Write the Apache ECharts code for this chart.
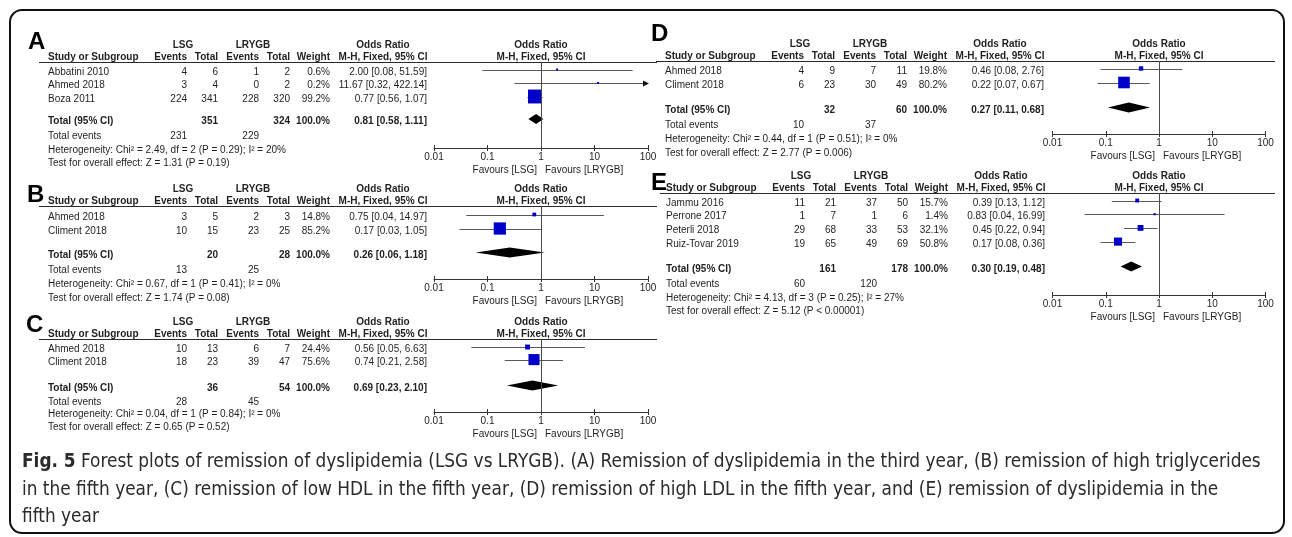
<!DOCTYPE html>
<html>
<head>
<meta charset="utf-8">
<script src="https://cdn.jsdelivr.net/npm/echarts/dist/echarts.min.js"></script>
<style>
  html, body { margin: 0; padding: 0; background: #fff; }
  #chart { width: 1292px; height: 537px; }
</style>
</head>
<body>
<div id="chart"></div>
<script>
// ---------- Data ----------
const oddsTicks = ['0.01', '0.1', '1', '10', '100'];

// A: remission of dyslipidemia, third year
const aStudies = ['Abbatini 2010', 'Ahmed 2018', 'Boza 2011'];
const aLsgEvents = [4, 3, 224];
const aLsgTotal = [6, 4, 341];
const aLrygbEvents = [1, 0, 228];
const aLrygbTotal = [2, 2, 320];
const aWeight = [0.6, 0.2, 99.2];
const aOr = [2.00, 11.67, 0.77];
const aLow = [0.08, 0.32, 0.56];
const aHigh = [51.59, 422.14, 1.07];
const aPooled = [0.81, 0.58, 1.11];          // estimate, lower, upper
const aTotals = [351, 324, 231, 229];        // LSG total, LRYGB total, LSG events, LRYGB events
const aHet = 'Heterogeneity: Chi² = 2.49, df = 2 (P = 0.29); I² = 20%';
const aTest = 'Test for overall effect: Z = 1.31 (P = 0.19)';

// B: remission of high triglycerides, fifth year
const bStudies = ['Ahmed 2018', 'Climent 2018'];
const bLsgEvents = [3, 10];
const bLsgTotal = [5, 15];
const bLrygbEvents = [2, 23];
const bLrygbTotal = [3, 25];
const bWeight = [14.8, 85.2];
const bOr = [0.75, 0.17];
const bLow = [0.04, 0.03];
const bHigh = [14.97, 1.05];
const bPooled = [0.26, 0.06, 1.18];
const bTotals = [20, 28, 13, 25];
const bHet = 'Heterogeneity: Chi² = 0.67, df = 1 (P = 0.41); I² = 0%';
const bTest = 'Test for overall effect: Z = 1.74 (P = 0.08)';

// C: remission of low HDL, fifth year
const cStudies = ['Ahmed 2018', 'Climent 2018'];
const cLsgEvents = [10, 18];
const cLsgTotal = [13, 23];
const cLrygbEvents = [6, 39];
const cLrygbTotal = [7, 47];
const cWeight = [24.4, 75.6];
const cOr = [0.56, 0.74];
const cLow = [0.05, 0.21];
const cHigh = [6.63, 2.58];
const cPooled = [0.69, 0.23, 2.10];
const cTotals = [36, 54, 28, 45];
const cHet = 'Heterogeneity: Chi² = 0.04, df = 1 (P = 0.84); I² = 0%';
const cTest = 'Test for overall effect: Z = 0.65 (P = 0.52)';

// D: remission of high LDL, fifth year
const dStudies = ['Ahmed 2018', 'Climent 2018'];
const dLsgEvents = [4, 6];
const dLsgTotal = [9, 23];
const dLrygbEvents = [7, 30];
const dLrygbTotal = [11, 49];
const dWeight = [19.8, 80.2];
const dOr = [0.46, 0.22];
const dLow = [0.08, 0.07];
const dHigh = [2.76, 0.67];
const dPooled = [0.27, 0.11, 0.68];
const dTotals = [32, 60, 10, 37];
const dHet = 'Heterogeneity: Chi² = 0.44, df = 1 (P = 0.51); I² = 0%';
const dTest = 'Test for overall effect: Z = 2.77 (P = 0.006)';

// E: remission of dyslipidemia, fifth year
const eStudies = ['Jammu 2016', 'Perrone 2017', 'Peterli 2018', 'Ruiz-Tovar 2019'];
const eLsgEvents = [11, 1, 29, 19];
const eLsgTotal = [21, 7, 68, 65];
const eLrygbEvents = [37, 1, 33, 49];
const eLrygbTotal = [50, 6, 53, 69];
const eWeight = [15.7, 1.4, 32.1, 50.8];
const eOr = [0.39, 0.83, 0.45, 0.17];
const eLow = [0.13, 0.04, 0.22, 0.08];
const eHigh = [1.12, 16.99, 0.94, 0.36];
const ePooled = [0.30, 0.19, 0.48];
const eTotals = [161, 178, 60, 120];
const eHet = 'Heterogeneity: Chi² = 4.13, df = 3 (P = 0.25); I² = 27%';
const eTest = 'Test for overall effect: Z = 5.12 (P < 0.00001)';

const captionLines = [
  'Forest plots of remission of dyslipidemia (LSG vs LRYGB). (A) Remission of dyslipidemia in the third year, (B) remission of high triglycerides',
  'in the fifth year, (C) remission of low HDL in the fifth year, (D) remission of high LDL in the fifth year, and (E) remission of dyslipidemia in the',
  'fifth year'
];

// ---------- Panels built from the arrays ----------
function makePanel(letter, studies, lsgE, lsgT, lrE, lrT, weight, or, low, high, pooled, totals, het, test) {
  return { letter, studies, lsgE, lsgT, lrE, lrT, weight, or, low, high, pooled, totals, het, test };
}
const panels = [
  makePanel('A', aStudies, aLsgEvents, aLsgTotal, aLrygbEvents, aLrygbTotal, aWeight, aOr, aLow, aHigh, aPooled, aTotals, aHet, aTest),
  makePanel('B', bStudies, bLsgEvents, bLsgTotal, bLrygbEvents, bLrygbTotal, bWeight, bOr, bLow, bHigh, bPooled, bTotals, bHet, bTest),
  makePanel('C', cStudies, cLsgEvents, cLsgTotal, cLrygbEvents, cLrygbTotal, cWeight, cOr, cLow, cHigh, cPooled, cTotals, cHet, cTest),
  makePanel('D', dStudies, dLsgEvents, dLsgTotal, dLrygbEvents, dLrygbTotal, dWeight, dOr, dLow, dHigh, dPooled, dTotals, dHet, dTest),
  makePanel('E', eStudies, eLsgEvents, eLsgTotal, eLrygbEvents, eLrygbTotal, eWeight, eOr, eLow, eHigh, ePooled, eTotals, eHet, eTest)
];

// ---------- Layout ----------
const panelLayout = [
  { letterX: 28,  letterY: 42,  x0: 48,  lineFrom: 39,  lineTo: 657,  lineY: 62,  row0: 72,    gap: 13.5, totalGap: 22.5, axisY: 148, plotLeft: 434,    plotWidth: 214 },
  { letterX: 27,  letterY: 195, x0: 48,  lineFrom: 39,  lineTo: 657,  lineY: 206, row0: 217,   gap: 14,   totalGap: 24,   axisY: 279, plotLeft: 434,    plotWidth: 214 },
  { letterX: 26,  letterY: 325, x0: 48,  lineFrom: 39,  lineTo: 657,  lineY: 339, row0: 349.5, gap: 12.6, totalGap: 26,   axisY: 412, plotLeft: 434,    plotWidth: 214 },
  { letterX: 651, letterY: 34,  x0: 665, lineFrom: 656, lineTo: 1275, lineY: 61,  row0: 71,    gap: 14,   totalGap: 25,   axisY: 134, plotLeft: 1052.5, plotWidth: 213 },
  { letterX: 651, letterY: 183, x0: 666, lineFrom: 660, lineTo: 1275, lineY: 193, row0: 203,   gap: 13.7, totalGap: 25,   axisY: 295, plotLeft: 1052.5, plotWidth: 213 }
];
// right edges of the table columns, measured from the study-name column
const COL = { evL: 139, totL: 170, evR: 211, totR: 242, weight: 282, ci: 379, lsg: 135, lrygb: 205, or: 335 };
const PLOT_SHIFT = 2.5;   // plot rows sit slightly above their table text

const FONT = '"Liberation Sans", Arial, sans-serif';
const TEXT = '#1f1f1f';
const AXIS = '#333';
const CI_COLOR = '#5a5a5a';
const BLUE = '#0000c8';

function renderCI(params, api) {
  const lo = api.value(0), hi = api.value(1), row = api.value(2);
  const a = api.coord([Math.max(lo, 0.01), row]);
  const b = api.coord([Math.min(hi, 100), row]);
  const y = Math.round(a[1]) + 0.5;
  const children = [{
    type: 'line',
    shape: { x1: a[0], y1: y, x2: b[0], y2: y },
    style: { stroke: CI_COLOR, lineWidth: 1 }
  }];
  if (hi > 100) {
    children.push({
      type: 'polygon',
      shape: { points: [[b[0] + 1, y], [b[0] - 5, y - 3], [b[0] - 5, y + 3]] },
      style: { fill: '#111' }
    });
  }
  return { type: 'group', children };
}

function renderDiamond(params, api) {
  const lo = api.coord([api.value(0), api.value(3)]);
  const mid = api.coord([api.value(1), api.value(3)]);
  const hi = api.coord([api.value(2), api.value(3)]);
  const h = 5;
  return {
    type: 'polygon',
    shape: { points: [[lo[0], lo[1]], [mid[0], mid[1] - h], [hi[0], hi[1]], [mid[0], mid[1] + h]] },
    style: { fill: '#000' }
  };
}

const chart = echarts.init(document.getElementById('chart'), null, { renderer: 'canvas' });

const grids = [], xAxes = [], yAxes = [], series = [];
panels.forEach((p, k) => {
  const L = panelLayout[k];
  grids.push({ left: L.plotLeft, top: L.lineY, width: L.plotWidth, height: L.axisY - L.lineY, containLabel: false, outerBoundsMode: 'none' });
  xAxes.push({
    type: 'log', logBase: 10, min: 0.01, max: 100, gridIndex: k, position: 'bottom',
    axisLine: { show: true, onZero: false, lineStyle: { color: AXIS, width: 1 } },
    axisTick: { show: true, length: 3, lineStyle: { color: AXIS, width: 1 } },
    axisLabel: { show: true, margin: 4, fontSize: 10, fontFamily: FONT, color: TEXT,
      formatter: v => oddsTicks[Math.round(Math.log10(v)) + 2] },
    splitLine: { show: false }, minorTick: { show: false }, minorSplitLine: { show: false }
  });
  xAxes.push({
    type: 'log', logBase: 10, min: 0.01, max: 100, gridIndex: k, position: 'bottom',
    axisLine: { show: false, onZero: false },
    axisTick: { show: true, inside: true, length: 3, lineStyle: { color: AXIS, width: 1 } },
    axisLabel: { show: false }, splitLine: { show: false }
  });
  const yMin = -(L.row0 - PLOT_SHIFT - L.lineY) / L.gap;
  yAxes.push({ type: 'value', gridIndex: k, inverse: true, min: yMin, max: yMin + (L.axisY - L.lineY) / L.gap, show: false });

  const n = p.studies.length;
  const totalRow = n - 1 + L.totalGap / L.gap;
  series.push({
    type: 'custom', xAxisIndex: 2 * k, yAxisIndex: k, silent: true, clip: false, z: 2,
    renderItem: renderCI, encode: { x: [0, 1], y: 2 },
    data: p.low.map((lo, i) => [lo, p.high[i], i])
  });
  series.push({
    type: 'scatter', xAxisIndex: 2 * k, yAxisIndex: k, silent: true, z: 3,
    symbol: 'rect', symbolSize: v => 2 + 0.12 * v[2],
    itemStyle: { color: BLUE, opacity: 1 },
    data: p.or.map((o, i) => [o, i, p.weight[i]]),
    markLine: {
      silent: true, symbol: 'none', label: { show: false },
      lineStyle: { color: '#4a4a4a', width: 1, type: 'solid' },
      emphasis: { disabled: true },
      data: [{ xAxis: 1 }]
    }
  });
  series.push({
    type: 'custom', xAxisIndex: 2 * k, yAxisIndex: k, silent: true, clip: false, z: 3,
    renderItem: renderDiamond, encode: { x: [0, 1, 2], y: 3 },
    data: [[p.pooled[1], p.pooled[0], p.pooled[2], totalRow]]
  });
});

chart.setOption({
  animation: false,
  backgroundColor: '#fff',
  grid: grids, xAxis: xAxes, yAxis: yAxes, series: series
});

// ---------- Tables, headings and caption ----------
function txt(x, y, text, align, bold, size, color) {
  return {
    type: 'text', x: x, y: y, silent: true,
    style: {
      text: text, align: align || 'left', verticalAlign: 'middle',
      font: (bold ? 'bold ' : '') + (size || 10) + 'px ' + FONT,
      fill: color || TEXT
    }
  };
}
function hline(x1, x2, y) {
  return { type: 'line', silent: true, shape: { x1: x1, y1: y + 0.5, x2: x2, y2: y + 0.5 }, style: { stroke: '#2a2a2a', lineWidth: 1 } };
}
const fmt2 = v => v.toFixed(2);
const ciText = (o, lo, hi) => fmt2(o) + ' [' + fmt2(lo) + ', ' + fmt2(hi) + ']';

const graphics = [];
graphics.push({
  type: 'rect', silent: true,
  shape: { x: 10, y: 10, width: 1274, height: 523, r: 12 },
  style: { fill: 'none', stroke: '#111', lineWidth: 2 }
});

panels.forEach((p, k) => {
  const L = panelLayout[k];
  const x0 = L.x0;
  const x1 = chart.convertToPixel({ xAxisIndex: 2 * k }, 1);
  const h1 = L.lineY - 16.5, h2 = L.lineY - 4.5;
  graphics.push(txt(L.letterX, L.letterY, p.letter, 'left', true, 24, '#000'));
  graphics.push(hline(L.lineFrom, L.lineTo, L.lineY));
  // column headings
  graphics.push(txt(x0 + COL.lsg, h1, 'LSG', 'center', true));
  graphics.push(txt(x0 + COL.lrygb, h1, 'LRYGB', 'center', true));
  graphics.push(txt(x0 + COL.or, h1, 'Odds Ratio', 'center', true));
  graphics.push(txt(x0, h2, 'Study or Subgroup', 'left', true));
  graphics.push(txt(x0 + COL.evL, h2, 'Events', 'right', true));
  graphics.push(txt(x0 + COL.totL, h2, 'Total', 'right', true));
  graphics.push(txt(x0 + COL.evR, h2, 'Events', 'right', true));
  graphics.push(txt(x0 + COL.totR, h2, 'Total', 'right', true));
  graphics.push(txt(x0 + COL.weight, h2, 'Weight', 'right', true));
  graphics.push(txt(x0 + COL.or, h2, 'M-H, Fixed, 95% CI', 'center', true));
  graphics.push(txt(x1, h1, 'Odds Ratio', 'center', true));
  graphics.push(txt(x1, h2, 'M-H, Fixed, 95% CI', 'center', true));
  // study rows
  p.studies.forEach((s, i) => {
    const y = L.row0 + L.gap * i;
    graphics.push(txt(x0, y, s, 'left'));
    graphics.push(txt(x0 + COL.evL, y, String(p.lsgE[i]), 'right'));
    graphics.push(txt(x0 + COL.totL, y, String(p.lsgT[i]), 'right'));
    graphics.push(txt(x0 + COL.evR, y, String(p.lrE[i]), 'right'));
    graphics.push(txt(x0 + COL.totR, y, String(p.lrT[i]), 'right'));
    graphics.push(txt(x0 + COL.weight, y, p.weight[i].toFixed(1) + '%', 'right'));
    graphics.push(txt(x0 + COL.ci, y, ciText(p.or[i], p.low[i], p.high[i]), 'right'));
  });
  // pooled rows
  const n = p.studies.length;
  const yTot = L.row0 + L.gap * (n - 1) + L.totalGap;
  const yEv = yTot + 1.1 * L.gap, yHet = yEv + L.gap, yTest = yHet + L.gap;
  graphics.push(txt(x0, yTot, 'Total (95% CI)', 'left', true));
  graphics.push(txt(x0 + COL.totL, yTot, String(p.totals[0]), 'right', true));
  graphics.push(txt(x0 + COL.totR, yTot, String(p.totals[1]), 'right', true));
  graphics.push(txt(x0 + COL.weight, yTot, '100.0%', 'right', true));
  graphics.push(txt(x0 + COL.ci, yTot, ciText(p.pooled[0], p.pooled[1], p.pooled[2]), 'right', true));
  graphics.push(txt(x0, yEv, 'Total events', 'left'));
  graphics.push(txt(x0 + COL.evL, yEv, String(p.totals[2]), 'right'));
  graphics.push(txt(x0 + COL.evR, yEv, String(p.totals[3]), 'right'));
  graphics.push(txt(x0, yHet, p.het, 'left'));
  graphics.push(txt(x0, yTest, p.test, 'left'));
  // favours labels under the axis
  graphics.push(txt(x1 - 4, L.axisY + 22, 'Favours [LSG]', 'right'));
  graphics.push(txt(x1 + 4, L.axisY + 22, 'Favours [LRYGB]', 'left'));
});

// caption, sized so the first line spans the frame's text width
const CAP_FONT = '"Liberation Sans Narrow", "DejaVu Sans Condensed", "Liberation Sans", sans-serif';
const ctx = document.createElement('canvas').getContext('2d');
ctx.font = 'bold 100px ' + CAP_FONT;
const wBold = ctx.measureText('Fig. 5 ').width;
ctx.font = '100px ' + CAP_FONT;
const wRest = ctx.measureText(captionLines[0]).width;
const capSize = Math.min(22, 100 * 1240 / (wBold + wRest));
const capColor = '#2b2b2b';
graphics.push({
  type: 'text', x: 22, y: 462, silent: true,
  style: {
    text: '{b|Fig. 5} ' + captionLines[0], verticalAlign: 'middle',
    font: capSize + 'px ' + CAP_FONT, fill: capColor,
    rich: { b: { font: 'bold ' + capSize + 'px ' + CAP_FONT, fill: capColor } }
  }
});
graphics.push({ type: 'text', x: 22, y: 490, silent: true, style: { text: captionLines[1], verticalAlign: 'middle', font: capSize + 'px ' + CAP_FONT, fill: capColor } });
graphics.push({ type: 'text', x: 22, y: 517, silent: true, style: { text: captionLines[2], verticalAlign: 'middle', font: capSize + 'px ' + CAP_FONT, fill: capColor } });

chart.setOption({ graphic: { elements: graphics } });
</script>
</body>
</html>
